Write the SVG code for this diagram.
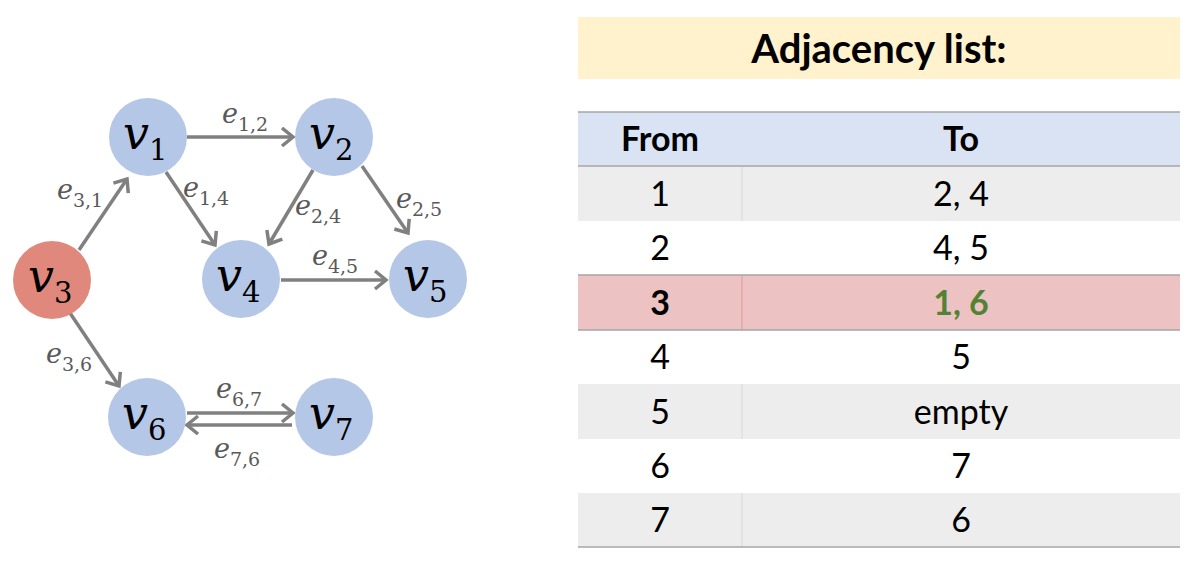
<svg xmlns="http://www.w3.org/2000/svg" width="1195" height="568" viewBox="0 0 1195 568">
<style>
.node{fill:#b4c7e7}
.red{fill:#e0887b}
.vl{font-family:"DejaVu Serif",serif;font-style:italic;font-size:46px;fill:#000}
.vs{font-style:normal;font-size:29px}
.el{font-family:"DejaVu Serif",serif;font-style:italic;font-size:27px;fill:#595959}
.es{font-style:normal;font-size:19px}
.edge{stroke:#808080;stroke-width:3.5;fill:none;marker-end:url(#ah)}
.tt{font-family:Lato,"Liberation Sans",sans-serif;font-size:34px;fill:#000;text-anchor:middle}
.title{font-size:40px}
.b{font-weight:bold}
.hl{stroke:#a6a6a6;stroke-width:1.5}
</style>
<defs>
<marker id="ah" markerUnits="userSpaceOnUse" markerWidth="16" markerHeight="22" refX="13" refY="10" orient="auto">
<path d="M2,1 L13,10 L2,19" fill="none" stroke="#808080" stroke-width="3.5" stroke-linejoin="miter"/>
</marker>
</defs>
<rect width="1195" height="568" fill="#fff"/>

<g id="connectors">
<line class="edge" x1="187" y1="137" x2="293" y2="137"/>
<line class="edge" x1="79" y1="250" x2="127" y2="179"/>
<line class="edge" x1="166" y1="172" x2="215" y2="245"/>
<line class="edge" x1="313" y1="170" x2="269" y2="244"/>
<line class="edge" x1="362" y1="166" x2="408" y2="233"/>
<line class="edge" x1="281" y1="280" x2="386" y2="280"/>
<line class="edge" x1="70" y1="313" x2="119" y2="386"/>
<line class="edge" x1="187" y1="413" x2="293" y2="413"/>
<line class="edge" x1="292" y1="425" x2="187" y2="425"/>
<text class="el" x="222" y="123">e<tspan class="es" dy="8">1,2</tspan></text>
<text class="el" x="57" y="199">e<tspan class="es" dy="8">3,1</tspan></text>
<text class="el" x="183" y="197">e<tspan class="es" dy="8">1,4</tspan></text>
<text class="el" x="295" y="215">e<tspan class="es" dy="8">2,4</tspan></text>
<text class="el" x="396" y="208">e<tspan class="es" dy="8">2,5</tspan></text>
<text class="el" x="312" y="265">e<tspan class="es" dy="8">4,5</tspan></text>
<text class="el" x="46" y="363">e<tspan class="es" dy="8">3,6</tspan></text>
<text class="el" x="216" y="398">e<tspan class="es" dy="8">6,7</tspan></text>
<text class="el" x="214" y="458">e<tspan class="es" dy="8">7,6</tspan></text>
</g>

<g id="v1"><circle class="node" cx="148" cy="137" r="39"/><text class="vl" x="123" y="149">v<tspan class="vs" dy="11">1</tspan></text></g>
<g id="v2"><circle class="node" cx="334" cy="137" r="39"/><text class="vl" x="309" y="149">v<tspan class="vs" dy="11">2</tspan></text></g>
<g id="v3"><circle class="red" cx="52" cy="280" r="39"/><text class="vl" x="28" y="292">v<tspan class="vs" dy="11">3</tspan></text></g>
<g id="v4"><circle class="node" cx="241" cy="279" r="39"/><text class="vl" x="216" y="291">v<tspan class="vs" dy="11">4</tspan></text></g>
<g id="v5"><circle class="node" cx="428" cy="279" r="39"/><text class="vl" x="403" y="291">v<tspan class="vs" dy="11">5</tspan></text></g>
<g id="v6"><circle class="node" cx="147" cy="417" r="39"/><text class="vl" x="122" y="429">v<tspan class="vs" dy="11">6</tspan></text></g>
<g id="v7"><circle class="node" cx="334" cy="417" r="39"/><text class="vl" x="309" y="429">v<tspan class="vs" dy="11">7</tspan></text></g>

<g id="table">
<rect x="578" y="17" width="602" height="62" fill="#fff2cc"/>
<text class="tt b title" x="879" y="63">Adjacency list:</text>
<rect x="578" y="112" width="602" height="54" fill="#dae3f3"/>
<rect x="578" y="166" width="602" height="55" fill="#ededed"/>
<rect x="578" y="275" width="602" height="55" fill="#ecc2c2"/>
<rect x="578" y="384" width="602" height="55" fill="#ededed"/>
<rect x="578" y="493" width="602" height="54" fill="#ededed"/>
<line x1="742" y1="166" x2="742" y2="221" stroke="#d9d9d9" stroke-width="1"/>
<line x1="742" y1="275" x2="742" y2="330" stroke="#e49a9a" stroke-width="1"/>
<line x1="742" y1="384" x2="742" y2="439" stroke="#d9d9d9" stroke-width="1"/>
<line x1="742" y1="493" x2="742" y2="547" stroke="#d9d9d9" stroke-width="1"/>
<line class="hl" x1="578" y1="112" x2="1180" y2="112"/>
<line class="hl" x1="578" y1="166" x2="1180" y2="166"/>
<line class="hl" x1="578" y1="275" x2="1180" y2="275"/>
<line class="hl" x1="578" y1="330" x2="1180" y2="330"/>
<line class="hl" x1="578" y1="547" x2="1180" y2="547"/>
<text class="tt b" x="660" y="151">From</text>
<text class="tt b" x="961" y="151">To</text>
<text class="tt" x="660" y="206">1</text><text class="tt" x="961" y="206">2, 4</text>
<text class="tt" x="660" y="260">2</text><text class="tt" x="961" y="260">4, 5</text>
<text class="tt b" x="660" y="315">3</text><text class="tt b" x="961" y="315" style="fill:#548235">1, 6</text>
<text class="tt" x="660" y="369">4</text><text class="tt" x="961" y="369">5</text>
<text class="tt" x="660" y="424">5</text><text class="tt" x="961" y="424">empty</text>
<text class="tt" x="660" y="478">6</text><text class="tt" x="961" y="478">7</text>
<text class="tt" x="660" y="532">7</text><text class="tt" x="961" y="532">6</text>
</g>
</svg>
